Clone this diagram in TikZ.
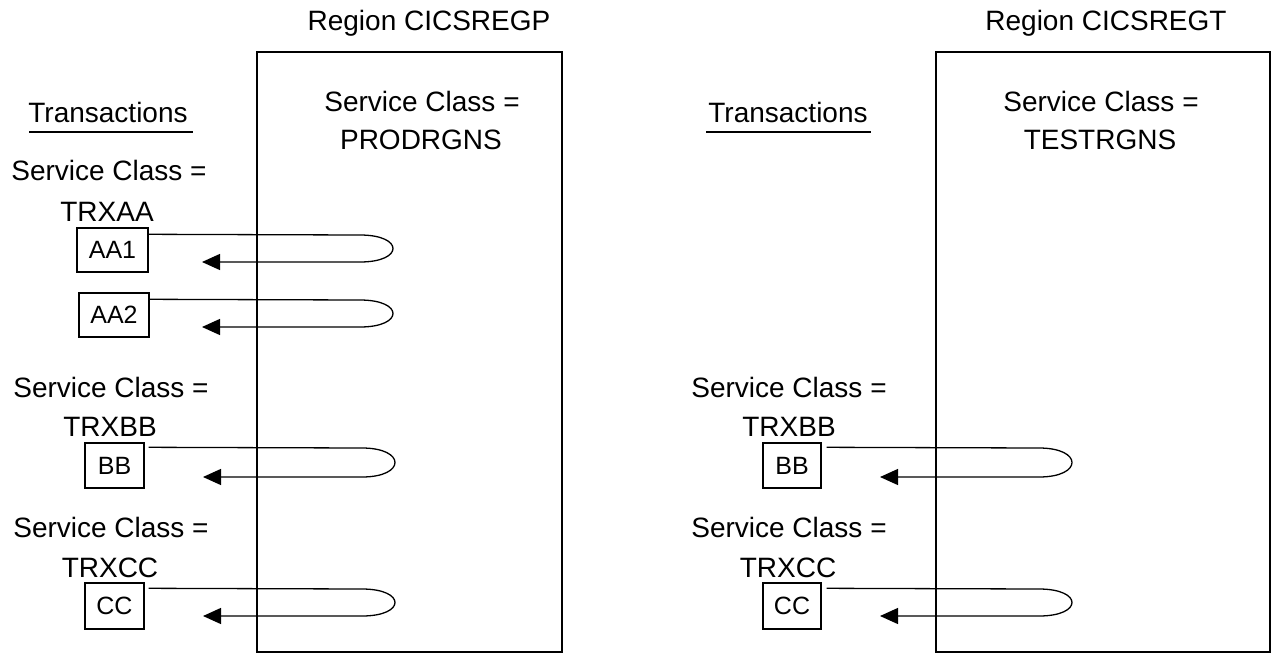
\documentclass[tikz,border=0pt]{standalone}
\usepackage{fontspec}
\setmainfont{Liberation Sans}
\usetikzlibrary{arrows.meta}
\begin{document}
\begin{tikzpicture}[x=1pt,y=-1pt,
  lbl/.style={inner sep=0pt,font=\fontsize{28}{32}\selectfont},
  region/.style={draw,line width=2pt},
  trx/.style={draw,line width=1.4pt,inner sep=0pt,font=\fontsize{25}{29}\selectfont},
  loopline/.style={line width=1.3pt,-{Triangle[length=18pt,width=16pt]}}]
\useasboundingbox (0,0) rectangle (1272,654);
% regions
\draw[region] (257,52) rectangle (562,652);
\draw[region] (936,52) rectangle (1270,652);
\node[lbl] (regp) at (429,23) {Region CICSREGP};
\node[lbl] (regt) at (1106,23) {Region CICSREGT};
\node[lbl] (scp1) at (422,101) {Service Class =};
\node[lbl] (scp2) at (421,140) {PRODRGNS};
\node[lbl] (sct1) at (1101,101) {Service Class =};
\node[lbl] (sct2) at (1100,140) {TESTRGNS};
% transactions headings
\node[lbl] (trl) at (108,112) {Transactions};
\draw[line width=1.3pt] (29,132) -- (193,132);
\node[lbl] (trr) at (788,112) {Transactions};
\draw[line width=1.3pt] (706,132) -- (871,132);
% left side labels
\node[lbl] (la1) at (109,170) {Service Class =};
\node[lbl] (la2) at (107,212) {TRXAA};
\node[lbl] (lb1) at (111,387) {Service Class =};
\node[lbl] (lb2) at (110,427) {TRXBB};
\node[lbl] (lc1) at (111,527) {Service Class =};
\node[lbl] (lc2) at (110,568) {TRXCC};
% right side labels
\node[lbl] (rb1) at (789,387) {Service Class =};
\node[lbl] (rb2) at (789,427) {TRXBB};
\node[lbl] (rc1) at (789,527) {Service Class =};
\node[lbl] (rc2) at (788,568) {TRXCC};
% transaction boxes
\node[trx,minimum width=71pt,minimum height=44pt] (aa1) at (112.5,250) {AA1};
\node[trx,minimum width=70pt,minimum height=44pt] (aa2) at (114,315) {AA2};
\node[trx,minimum width=59pt,minimum height=45pt] (bbl) at (114.5,465.5) {BB};
\node[trx,minimum width=59pt,minimum height=46pt] (ccl) at (114.5,606) {CC};
\node[trx,minimum width=58pt,minimum height=45pt] (bbr) at (792,465.5) {BB};
\node[trx,minimum width=58pt,minimum height=46pt] (ccr) at (792,606) {CC};
% arrow end points
\coordinate (e1) at (202,262);
\coordinate (e2) at (202,327);
\coordinate (e3) at (203,477);
\coordinate (e4) at (203,616);
\coordinate (e5) at (880,477);
\coordinate (e6) at (880,616);
% loops
\draw[loopline] ([yshift=-7pt]aa1.north east) -- (360,235) .. controls (404,235) and (404,262) .. (360,262) -- (e1);
\draw[loopline] ([yshift=-7pt]aa2.north east) -- (360,300) .. controls (404,300) and (404,327) .. (360,327) -- (e2);
\draw[loopline] ([yshift=-5pt,xshift=4pt]bbl.north east) -- (362,448) .. controls (406,448) and (406,477) .. (362,477) -- (e3);
\draw[loopline] ([yshift=-6pt,xshift=4pt]ccl.north east) -- (362,589) .. controls (406,589) and (406,616) .. (362,616) -- (e4);
\draw[loopline] ([yshift=-5pt,xshift=5pt]bbr.north east) -- (1039,448) .. controls (1083,448) and (1083,477) .. (1039,477) -- (e5);
\draw[loopline] ([yshift=-6pt,xshift=5pt]ccr.north east) -- (1039,589) .. controls (1083,589) and (1083,616) .. (1039,616) -- (e6);
\end{tikzpicture}
\end{document}
